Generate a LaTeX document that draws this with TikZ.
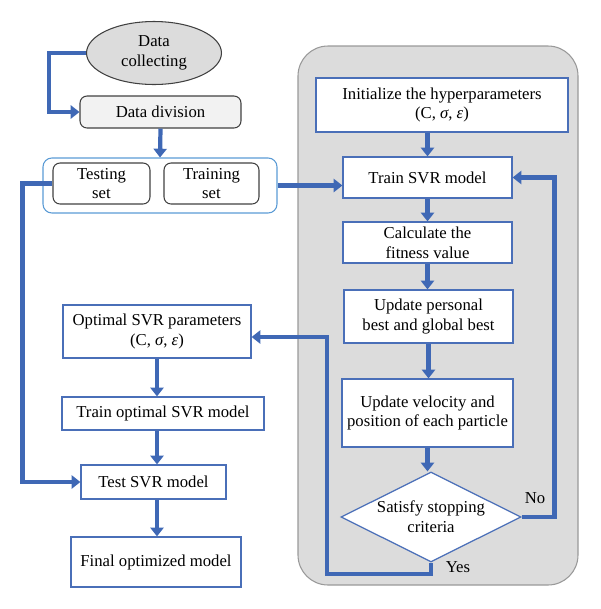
\documentclass[tikz,border=0pt]{standalone}
\usepackage{fontspec}
\setmainfont{Liberation Serif}
\usetikzlibrary{shapes.geometric,arrows.meta}

\definecolor{flowblue}{HTML}{3F68B5}
\definecolor{boxblue}{HTML}{4A6FB8}
\definecolor{setblue}{HTML}{5B9BD5}
\definecolor{panelgray}{HTML}{DCDCDC}

\tikzset{
  every node/.style={font=\fontsize{9.5}{11.3}\selectfont, align=center, inner sep=0pt},
  box/.style={draw=boxblue, fill=white, line width=0.7pt, rectangle},
  grey box/.style={draw=black!75, rounded corners=4pt, line width=0.6pt},
  flow/.style={draw=flowblue, line width=2.4pt, line join=miter,
    -{Triangle[width=7.5pt,length=5pt]}}
}

\begin{document}
\begin{tikzpicture}[x=0.02cm,y=-0.02cm]
        \useasboundingbox (0,0) rectangle (600,609);
        % PSO panel
        \draw[fill=panelgray, draw=black!40, line width=0.6pt, rounded corners=0.6cm] (298,46) rectangle (578,585);

        % data side
        \node[ellipse, draw=black!75, fill=panelgray, line width=0.6pt, minimum width=2.7cm, minimum height=1.26cm] (collect) at (154,53) {Data\\collecting};
        \node[grey box, fill=black!5, minimum width=3.22cm, minimum height=0.64cm] (divide) at (160.5,112) {Data division};
        \node[draw=setblue, rounded corners=5pt, line width=0.6pt, minimum width=4.68cm, minimum height=1.1cm] (sets) at (160,185.5) {};
        \node[grey box, minimum width=1.94cm, minimum height=0.82cm] (testing) at (101.5,183.5) {Testing\\set};
        \node[grey box, minimum width=1.9cm, minimum height=0.82cm] (training) at (211.5,183.5) {Training\\set};

        % optimisation loop
        \node[box, minimum width=5.04cm, minimum height=1.08cm] (init) at (442,105) {Initialize the hyperparameters\\(C, \textit{σ}, \textit{ε})};
        \node[box, minimum width=3.38cm, minimum height=0.82cm] (train) at (427.5,177.5) {Train SVR model};
        \node[box, minimum width=3.38cm, minimum height=0.82cm] (calc) at (427.5,242.5) {Calculate the\\fitness value};
        \node[box, minimum width=3.38cm, minimum height=1.06cm] (best) at (428.5,316.5) {Update personal\\best and global best};
        \node[box, minimum width=3.42cm, minimum height=1.36cm] (move) at (427.5,413) {Update velocity and\\position of each particle};
        \node[box, diamond, aspect=2, minimum width=3.6cm, minimum height=1.8cm] (stop) at (431,517) {Satisfy stopping\\criteria};
        \node (no) at (535,498) {No};
        \node (yes) at (458,567) {Yes};

        % final model
        \node[box, minimum width=3.76cm, minimum height=1.06cm] (optimal) at (157,331.5) {Optimal SVR parameters\\(C, \textit{σ}, \textit{ε})};
        \node[box, minimum width=4.04cm, minimum height=0.66cm] (trainopt) at (163,413.5) {Train optimal SVR model};
        \node[box, minimum width=2.9cm, minimum height=0.68cm] (test) at (153.5,482) {Test SVR model};
        \node[box, minimum width=3.4cm, minimum height=1cm] (final) at (156,562) {Final optimized model};

        \coordinate (back) at (327,337);

        % connectors
        \draw[flow] (collect.west) -- ++(-37,0) |- (divide.west);
        \draw[flow] (divide.south) -- (sets.north);
        \draw[flow] (testing.west) -- ++(-30,0) |- (test.west);
        \draw[flow] (sets.east) -- (sets.east -| train.west);
        \draw[flow] (train.north |- init.south) -- (train.north);
        \draw[flow] (train.south) -- (calc.north);
        \draw[flow] (calc.south) -- (calc.south |- best.north);
        \draw[flow] (best.south) -- (best.south |- move.north);
        \draw[flow] (move.south) -- (move.south |- stop.north);
        \draw[flow] (stop.east) -- ++(33,0) |- (train.east);
        \draw[flow] (stop.south) -- ++(0,11) -| (back) -- (back -| optimal.east);
        \draw[flow] (optimal.south) -- (optimal.south |- trainopt.north);
        \draw[flow] (optimal.south |- trainopt.south) -- (optimal.south |- test.north);
        \draw[flow] (optimal.south |- test.south) -- (optimal.south |- final.north);
\end{tikzpicture}
\end{document}
